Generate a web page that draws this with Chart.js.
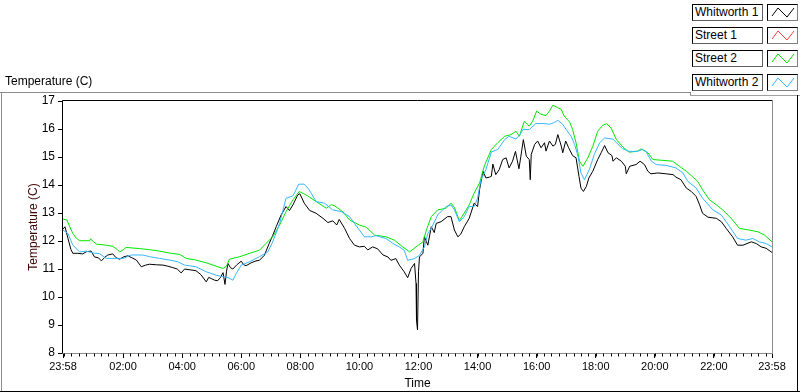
<!DOCTYPE html>
<html lang="en">
<head>
<meta charset="UTF-8">
<title>Temperature (C)</title>
<script src="https://cdn.jsdelivr.net/npm/chart.js@4"></script>
<style>
  html, body { margin: 0; padding: 0; background: #fff; }
  body { width: 800px; height: 392px; overflow: hidden; font-family: "Liberation Sans", Arial, sans-serif; }
  #wrap { position: relative; width: 800px; height: 392px; }
  #chart { position: absolute; left: 0; top: 0; }
  .plotTitle { position: absolute; left: 5px; top: 74px; font-size: 12px; color: #000; }
  .legend { position: absolute; left: 692px; top: 4px; }
  .row { position: absolute; left: 0; width: 106px; height: 17px; }
  .name {
    position: absolute; left: 0; top: 0; width: 67px; height: 15px;
    border: 1px solid #000; border-right-color: #606060; border-bottom-color: #606060;
    padding-left: 2px; font-size: 12px; line-height: 15px; color: #000; background: #fff;
    white-space: nowrap;
  }
  .swatch {
    position: absolute; left: 75px; top: 0; width: 29px; height: 15px;
    border: 1px solid #000; border-right-color: #808080; border-bottom-color: #808080;
  }
  .swatch svg { display: block; }
</style>
</head>
<body>
<div id="wrap">
  <canvas id="chart" width="800" height="392"></canvas>
  <div class="plotTitle">Temperature (C)</div>
  <div class="legend" id="legend"></div>
</div>
<script>
// minutes after the 23:58 start, and temperatures in degrees C
const w1Minutes = [0,4,10,16,20,30,40,48,57,64,72,78,85,91,101,108,115,124,132,140,149,159,168,176,190,203,213,223,232,240,247,254,262,270,280,291,296,301,308,314,320,325,329,332,335,340,345,353,362,367,372,382,392,399,409,419,426,433,443,453,460,467,477,481,490,501,514,528,538,548,556,561,572,582,592,602,612,619,629,639,650,660,666,676,683,693,700,707,714,717,718,720,722,724,731,734,741,748,754,758,768,781,788,795,802,808,815,825,835,842,846,853,859,866,870,873,879,886,893,900,906,913,919,926,930,935,941,947,949,951,958,964,971,978,981,988,995,1000,1005,1012,1015,1021,1027,1035,1042,1048,1052,1057,1063,1068,1076,1086,1093,1100,1107,1115,1117,1124,1134,1142,1144,1151,1164,1172,1181,1188,1194,1208,1225,1239,1245,1255,1266,1276,1286,1293,1299,1310,1327,1337,1347,1360,1370,1381,1398,1408,1418,1428,1440];
const w1Temps = [12.42,12.51,12.1,11.7,11.56,11.56,11.54,11.62,11.64,11.43,11.4,11.29,11.42,11.5,11.54,11.4,11.35,11.44,11.47,11.4,11.32,11.08,11.14,11.17,11.15,11.14,11.1,11.05,11.0,10.86,11.0,10.98,10.96,10.94,10.8,10.54,10.7,10.66,10.6,10.58,10.7,10.87,10.45,10.9,11.2,11.05,11.0,11.15,11.28,11.15,11.12,11.22,11.29,11.31,11.49,11.92,12.2,12.51,12.93,13.23,13.09,13.29,13.65,13.69,13.35,13.09,12.99,12.81,12.66,12.72,12.57,12.77,12.45,12.09,11.85,11.79,11.81,11.68,11.79,11.72,11.5,11.43,11.31,11.37,11.14,10.9,10.69,11.02,11.2,10.48,9.16,8.83,10.9,11.43,11.56,12.15,11.85,12.51,12.3,12.63,12.69,12.87,12.87,12.39,12.15,12.25,12.51,12.81,13.35,13.23,13.83,14.49,14.25,14.28,14.31,14.75,14.37,14.55,14.91,14.97,14.61,14.85,15.2,14.58,15.03,15.62,15.03,14.91,14.19,15.09,15.45,15.57,15.33,15.51,15.21,15.57,15.39,15.45,15.8,15.39,15.15,15.57,15.33,15.05,14.97,14.31,13.89,13.77,13.95,14.25,14.49,14.91,15.15,15.41,15.15,15.05,14.85,14.97,14.85,14.67,14.4,14.67,14.73,14.85,14.73,14.49,14.4,14.43,14.4,14.37,14.28,14.19,13.89,13.77,13.59,13.29,12.99,12.85,12.81,12.69,12.45,12.15,11.85,11.85,11.97,11.91,11.79,11.74,11.59];

const s1Minutes = [];
const s1Temps = [];

const s2Minutes = [0,8,14,20,27,34,54,56,60,68,88,101,110,115,122,128,155,176,196,216,237,250,270,291,311,325,332,338,359,379,399,412,426,440,453,467,480,497,514,535,545,552,568,582,602,616,633,656,673,690,704,717,731,738,748,761,778,788,795,805,815,825,835,846,856,870,883,897,910,920,927,937,947,954,962,971,981,988,995,1005,1012,1018,1029,1035,1042,1049,1056,1066,1076,1086,1096,1104,1113,1124,1137,1150,1167,1174,1188,1198,1218,1238,1252,1266,1279,1289,1299,1313,1327,1340,1357,1374,1394,1411,1425,1440];
const s2Temps = [12.78,12.75,12.5,12.27,12.1,12.01,12.01,12.08,12.0,11.89,11.85,11.81,11.7,11.61,11.68,11.77,11.73,11.69,11.64,11.57,11.52,11.38,11.32,11.22,11.1,11.02,11.1,11.35,11.44,11.56,11.67,11.91,12.15,12.57,13.05,13.47,13.77,13.61,13.41,13.17,13.3,13.25,13.05,12.75,12.57,12.49,12.21,12.15,12.03,11.79,11.61,11.79,11.97,12.39,12.87,13.11,13.17,13.35,13.2,12.73,13.0,13.29,13.71,14.07,14.69,15.27,15.51,15.74,15.8,15.92,15.74,16.28,16.1,16.28,16.64,16.52,16.48,16.64,16.85,16.76,16.7,16.46,16.25,15.98,15.51,14.85,14.67,14.97,15.38,15.92,16.13,16.19,16.04,15.62,15.36,15.17,15.21,15.29,15.15,14.91,14.88,14.85,14.67,14.49,14.29,14.13,13.83,13.47,13.29,13.11,12.81,12.45,12.39,12.33,12.21,11.97];

const w2Minutes = [0,10,20,34,47,61,74,88,108,122,139,162,176,196,216,233,247,270,291,311,325,335,345,352,362,379,399,416,426,440,453,467,479,490,499,504,514,531,548,565,582,592,602,612,626,636,656,670,683,693,700,714,724,734,741,748,761,778,788,795,805,815,825,835,842,849,859,870,883,897,906,920,928,934,947,960,974,988,998,1005,1015,1022,1032,1039,1046,1052,1059,1069,1079,1090,1100,1117,1124,1137,1150,1167,1177,1184,1195,1205,1225,1245,1259,1269,1286,1299,1320,1337,1354,1370,1387,1401,1414,1428,1440];
const w2Temps = [12.39,12.27,11.85,11.61,11.64,11.57,11.55,11.38,11.38,11.38,11.5,11.5,11.44,11.38,11.32,11.26,11.14,11.08,10.9,10.78,10.72,10.7,10.6,10.84,11.14,11.26,11.44,11.61,11.97,12.63,13.53,13.61,14.03,14.03,13.85,13.71,13.41,13.35,13.11,13.05,12.87,12.63,12.39,12.15,12.15,12.19,12.09,11.91,11.79,11.67,11.31,11.37,11.49,11.79,12.27,12.45,12.93,13.23,13.29,13.11,12.69,12.87,13.23,13.23,13.53,14.19,14.55,15.18,15.27,15.62,15.74,15.64,15.8,15.98,15.98,16.19,16.2,16.17,16.23,16.31,16.17,15.98,15.74,15.45,15.03,14.43,14.19,14.55,15.09,15.51,15.68,15.64,15.51,15.29,15.2,15.2,15.27,15.2,14.85,14.73,14.7,14.61,14.43,14.13,13.89,13.53,13.11,12.93,12.51,12.09,12.03,12.09,11.97,11.91,11.79];

const seriesNames = ["Whitworth 1", "Street 1", "Street 2", "Whitworth 2"];
const seriesColors = ["#000000", "#ff3c3c", "#00e600", "#35b6ff"];

const xTickMinutes = [0, 122, 242, 362, 482, 602, 722, 842, 962, 1082, 1202, 1322, 1440];
const xTickLabels = ["23:58", "02:00", "04:00", "06:00", "08:00", "10:00", "12:00", "14:00", "16:00", "18:00", "20:00", "22:00", "23:58"];
const yTicks = [8, 9, 10, 11, 12, 13, 14, 15, 16, 17];

const toPoints = (mins, temps) => mins.map((m, i) => ({ x: m, y: temps[i] }));
const seriesData = [
  toPoints(w1Minutes, w1Temps),
  toPoints(s1Minutes, s1Temps),
  toPoints(s2Minutes, s2Temps),
  toPoints(w2Minutes, w2Temps)
];

// legend boxes (name + little zigzag swatch)
const legendTops = [0, 23, 46, 70];
const legendEl = document.getElementById("legend");
seriesNames.forEach((name, i) => {
  const row = document.createElement("div");
  row.className = "row";
  row.style.top = legendTops[i] + "px";
  row.innerHTML =
    '<div class="name">' + name + '</div>' +
    '<div class="swatch"><svg width="29" height="15">' +
    '<polyline points="4,11 10,3 19,12 26,3" fill="none" stroke="' + seriesColors[i] + '" stroke-width="1"/></svg></div>';
  legendEl.appendChild(row);
});

Chart.defaults.font.family = '"Liberation Sans", Arial, sans-serif';
Chart.defaults.color = "#000";

// frame lines, plot border and the small 15 minute ticks
const framePlugin = {
  id: "frame",
  afterDraw(chart) {
    const ctx = chart.ctx;
    const a = chart.chartArea;
    const xs = chart.scales.x;
    const line = (x1, y1, x2, y2, c) => {
      ctx.strokeStyle = c;
      ctx.beginPath();
      ctx.moveTo(x1, y1);
      ctx.lineTo(x2, y2);
      ctx.stroke();
    };
    ctx.save();
    ctx.lineWidth = 1;
    // outer panel
    line(0, 92.5, 690, 92.5, "#8c8c8c");
    line(690.5, 92, 690.5, 95, "#8c8c8c");
    line(690, 95.5, 800, 95.5, "#a0a0a0");
    line(1.5, 92, 1.5, 392, "#8c8c8c");
    line(0, 391.5, 800, 391.5, "#000");
    line(797.5, 95, 797.5, 392, "#000");
    // plot border
    const l = Math.round(a.left) - 0.5, r = Math.round(a.right) + 0.5;
    const t = Math.round(a.top) - 0.5, b = Math.round(a.bottom) + 0.5;
    line(l, t, r, t, "#000");
    line(l, t, l, b, "#000");
    line(l, b, r + 0.5, b, "#8c8c8c");
    line(r, t, r, b, "#8c8c8c");
    // minor x ticks every 15 minutes, from 00:00
    for (let m = 2; m < 1440; m += 15) {
      const px = Math.round(xs.getPixelForValue(m)) + 0.5;
      line(px, b, px, b + 3, "#000");
    }
    ctx.restore();
  }
};

new Chart(document.getElementById("chart").getContext("2d"), {
  type: "line",
  data: {
    datasets: seriesNames.map((name, i) => ({
      label: name,
      data: seriesData[i],
      borderColor: seriesColors[i],
      backgroundColor: seriesColors[i],
      borderWidth: 1,
      pointRadius: 0,
      tension: 0,
      fill: false,
      order: 3 - i
    }))
  },
  options: {
    responsive: false,
    animation: false,
    events: [],
    layout: { padding: { top: 101, right: 28, left: 0, bottom: 0 } },
    plugins: {
      legend: { display: false },
      tooltip: { enabled: false }
    },
    scales: {
      x: {
        type: "linear",
        min: 0,
        max: 1440,
        afterBuildTicks: s => { s.ticks = xTickMinutes.map(v => ({ value: v })); },
        afterFit: s => { s.height = 39; },
        ticks: {
          autoSkip: false,
          maxRotation: 0,
          padding: 2,
          font: { size: 11 },
          color: "#000",
          callback: v => xTickLabels[xTickMinutes.indexOf(v)]
        },
        grid: { drawOnChartArea: false, tickLength: 5, tickColor: "#000" },
        border: { display: false },
        title: { display: true, text: "Time", font: { size: 12 }, color: "#000", padding: { top: 0, bottom: 1 } }
      },
      y: {
        min: 8,
        max: 17,
        afterBuildTicks: s => { s.ticks = yTicks.map(v => ({ value: v })); },
        afterFit: s => { s.width = 63; },
        ticks: { padding: 3, font: { size: 12 }, color: "#000" },
        grid: { drawOnChartArea: false, tickLength: 5, tickColor: "#000" },
        border: { display: false },
        title: { display: true, text: "Temperature (C)", font: { size: 12 }, color: "#400000", padding: { top: 26, bottom: 0 } }
      }
    }
  },
  plugins: [framePlugin]
});
</script>
</body>
</html>
